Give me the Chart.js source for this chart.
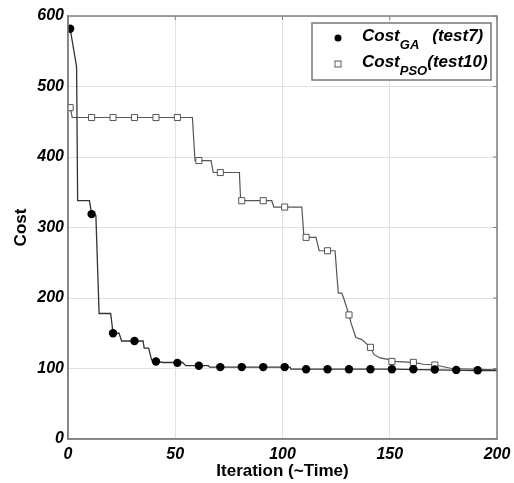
<!DOCTYPE html>
<html>
<head>
<meta charset="utf-8">
<script src="https://cdn.jsdelivr.net/npm/chart.js@4"></script>
<style>
  html, body { margin: 0; padding: 0; background: #fff; }
  #wrap { width: 514px; height: 483px; position: relative; }
</style>
</head>
<body>
<div id="wrap"><canvas id="costchart" width="514" height="483"></canvas></div>
<script>
// cost curve of GA (test7), traced vertices of the stepped line
const gaLineX = [1, 4, 4.5, 10, 11, 13, 14.5, 19.9, 21, 23.8, 25, 31, 35, 35.5, 37.6, 39, 41, 44.4, 51, 53.4, 54.9, 61, 65.4, 66, 101, 103.5, 104, 151, 171, 191, 200];
const gaLineY = [582, 528, 338, 338, 319, 317, 178, 178, 150, 150, 139, 139, 139, 129, 129, 112, 110, 108.5, 108.5, 108.5, 104, 104, 104, 102, 102, 102, 99, 99, 98, 97, 97];

// cost curve of PSO (test10)
const psoLineX = [1, 2, 58, 59.2, 66.7, 67.7, 79.9, 80.5, 95, 96, 109, 110, 115.6, 117.1, 124.5, 126, 127.6, 128.5, 131, 132, 134.2, 137, 141, 142.6, 145.5, 150.9, 151, 161, 165.7, 171, 179, 200];
const psoLineY = [470, 456, 456, 395, 395, 378, 378, 338, 338, 329, 329, 286, 286, 267, 267, 207, 207, 200, 176, 164, 144, 141, 130, 120, 115, 112, 110, 108.7, 106, 105, 100, 98];

// markers every 10 iterations
const gaMarkX = [1, 11, 21, 31, 41, 51, 61, 71, 81, 91, 101, 111, 121, 131, 141, 151, 161, 171, 181, 191];
const gaMarkY = [582, 319, 150, 139, 110, 108, 104, 102, 102, 102, 102, 99, 99, 99, 99, 99, 99, 98.5, 98, 97.5];
const psoMarkX = [1, 11, 21, 31, 41, 51, 61, 71, 81, 91, 101, 111, 121, 131, 141, 151, 161, 171];
const psoMarkY = [470, 456, 456, 456, 456, 456, 395, 378, 338, 338, 329, 286, 267, 176, 130, 110, 108.7, 105];

const xTicks = [0, 50, 100, 150, 200];
const yTicks = [0, 100, 200, 300, 400, 500, 600];

const legendItems = [
    { main: 'Cost', sub: 'GA', tail: '(test7)', gap: 13, marker: 'circle' },
    { main: 'Cost', sub: 'PSO', tail: '(test10)', gap: 0, marker: 'rect' }
];

function toPoints(xs, ys) {
    return xs.map((x, i) => ({ x: x, y: ys[i] }));
}

const tickFont = { family: 'Liberation Sans', size: 16, weight: 'bold', style: 'italic' };
const axisGray = '#808080';

// box around the plot, small inner ticks on top and right, and the legend
const framePlugin = {
    id: 'framePlugin',
    afterDraw(chart) {
        const ctx = chart.ctx;
        const a = chart.chartArea;
        const xs = chart.scales.x, ys = chart.scales.y;
        ctx.save();
        ctx.strokeStyle = axisGray;
        ctx.lineWidth = 1.5;
        ctx.strokeRect(a.left, a.top, a.right - a.left, a.bottom - a.top);
        ctx.lineWidth = 1;
        ctx.beginPath();
        xTicks.forEach(v => {
            const px = xs.getPixelForValue(v);
            ctx.moveTo(px, a.top); ctx.lineTo(px, a.top + 4);
        });
        yTicks.forEach(v => {
            const py = ys.getPixelForValue(v);
            ctx.moveTo(a.right, py); ctx.lineTo(a.right - 4, py);
        });
        ctx.stroke();

        // legend
        const bx = a.right - 185, by = a.top + 7, bw = 179, bh = 57;
        ctx.fillStyle = '#fff';
        ctx.fillRect(bx, by, bw, bh);
        ctx.strokeStyle = '#777';
        ctx.lineWidth = 1.5;
        ctx.strokeRect(bx, by, bw, bh);
        legendItems.forEach((it, i) => {
            const base = by + 18 + i * 26;
            const mx = bx + 26, my = base - 3;
            if (it.marker === 'circle') {
                ctx.fillStyle = '#000';
                ctx.beginPath();
                ctx.arc(mx, my, 3.5, 0, Math.PI * 2);
                ctx.fill();
            } else {
                ctx.fillStyle = '#fff';
                ctx.strokeStyle = '#555';
                ctx.lineWidth = 1;
                ctx.fillRect(mx - 3, my - 3, 6, 6);
                ctx.strokeRect(mx - 3, my - 3, 6, 6);
            }
            ctx.fillStyle = '#000';
            ctx.textBaseline = 'alphabetic';
            ctx.textAlign = 'left';
            let tx = bx + 50;
            ctx.font = 'italic bold 17px "Liberation Sans"';
            ctx.fillText(it.main, tx, base);
            tx += ctx.measureText(it.main).width;
            ctx.font = 'italic bold 13px "Liberation Sans"';
            ctx.fillText(it.sub, tx, base + 8);
            tx += ctx.measureText(it.sub).width + it.gap;
            ctx.font = 'italic bold 17px "Liberation Sans"';
            ctx.fillText(it.tail, tx, base);
        });
        ctx.restore();
    }
};

const chart = new Chart(document.getElementById('costchart').getContext('2d'), {
    type: 'scatter',
    data: {
        datasets: [
            {
                label: 'GA markers',
                data: toPoints(gaMarkX, gaMarkY),
                showLine: false,
                pointStyle: 'circle',
                pointRadius: 4.2,
                backgroundColor: '#000',
                borderColor: '#000',
                borderWidth: 0,
                order: 1
            },
            {
                label: 'PSO markers',
                data: toPoints(psoMarkX, psoMarkY),
                showLine: false,
                pointStyle: 'rect',
                pointRadius: 4.3,
                backgroundColor: '#fff',
                borderColor: '#555',
                borderWidth: 1,
                order: 2
            },
            {
                label: 'GA line',
                data: toPoints(gaLineX, gaLineY),
                showLine: true,
                pointRadius: 0,
                borderColor: '#333',
                borderWidth: 1.3,
                tension: 0,
                order: 3
            },
            {
                label: 'PSO line',
                data: toPoints(psoLineX, psoLineY),
                showLine: true,
                pointRadius: 0,
                borderColor: '#555',
                borderWidth: 1.2,
                tension: 0,
                order: 4
            }
        ]
    },
    options: {
        responsive: false,
        animation: false,
        layout: { padding: { top: 16, right: 17, left: 0, bottom: 0 } },
        plugins: {
            legend: { display: false },
            tooltip: { enabled: false }
        },
        scales: {
            x: {
                type: 'linear',
                min: 0,
                max: 200,
                afterBuildTicks: s => { s.ticks = xTicks.map(v => ({ value: v })); },
                afterFit: s => { s.height = 44; s.paddingLeft = 0; s.paddingRight = 0; },
                grid: { color: '#e2e2e2', drawTicks: false },
                border: { color: axisGray, width: 1.5 },
                ticks: { font: tickFont, color: '#000', padding: 6, maxRotation: 0 },
                title: {
                    display: true,
                    text: 'Iteration (~Time)',
                    font: { family: 'Liberation Sans', size: 17, weight: 'bold', lineHeight: 1 },
                    color: '#000',
                    padding: { top: 0, bottom: 3 }
                }
            },
            y: {
                type: 'linear',
                min: 0,
                max: 600,
                afterBuildTicks: s => { s.ticks = yTicks.map(v => ({ value: v })); },
                afterFit: s => { s.width = 68; s.paddingTop = 0; s.paddingBottom = 0; },
                grid: { color: '#e2e2e2', drawTicks: false },
                border: { color: axisGray, width: 1.5 },
                ticks: { font: tickFont, color: '#000', padding: 4 },
                title: {
                    display: true,
                    text: 'Cost',
                    font: { family: 'Liberation Sans', size: 17, weight: 'bold', lineHeight: 1 },
                    color: '#000',
                    padding: { top: 13, bottom: 0 }
                }
            }
        }
    },
    plugins: [framePlugin]
});
</script>
</body>
</html>
